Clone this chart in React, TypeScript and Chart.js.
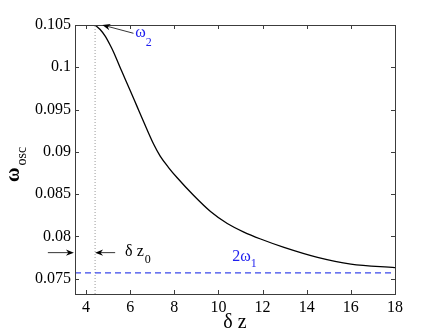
import React, { useEffect, useRef } from 'react';
import { Chart, registerables } from 'chart.js';
Chart.register(...registerables);

const SERIF = 'Liberation Serif';
Chart.defaults.font.family = SERIF;

// δz values and oscillation frequency ω_osc
const dz = [4.41, 4.64, 4.86, 5.09, 5.24, 5.62, 6.0, 6.31, 6.61, 7.06, 7.36, 7.74, 8.12, 8.88, 9.64, 10.4, 11.15, 11.91, 12.97, 14.49, 16.0, 18.0];
const wosc = [0.105, 0.10447, 0.10371, 0.10264, 0.10185, 0.09952, 0.09727, 0.09538, 0.09356, 0.09093, 0.08951, 0.08815, 0.08697, 0.08484, 0.08295, 0.08153, 0.08052, 0.0797, 0.07871, 0.07753, 0.07674, 0.07632];
const twoOmega1 = 0.0757;
const dz0 = 4.41;

const xRange = [3.5, 18];
const yRange = [0.0732, 0.105];
const xTicks = [4, 6, 8, 10, 12, 14, 16, 18];
const xTickLabels = ['4', '6', '8', '10', '12', '14', '16', '18'];
const yTicks = [0.075, 0.08, 0.085, 0.09, 0.095, 0.1, 0.105];
const yTickLabels = ['0.075', '0.08', '0.085', '0.09', '0.095', '0.1', '0.105'];

// annotation anchors in data coordinates
const omega2Arrow = { from: [6.15, 0.10402], to: [4.74, 0.105] };
const omega2Text = [6.23, 0.10358];
const dz0Arrow = { from: [5.32, 0.07809], to: [4.41, 0.07809] };
const dz0LeftArrow = { from: [2.27, 0.07809], to: [3.45, 0.07809] };
const dz0Text = [5.77, 0.0777];
const twoOmega1Text = [10.62, 0.0771];

const BLUE = '#1f1fef';
const AXIS = '#3c3c3c';

function drawArrow(ctx: CanvasRenderingContext2D, x1: number, y1: number, x2: number, y2: number) {
  const ang = Math.atan2(y2 - y1, x2 - x1);
  ctx.save();
  ctx.strokeStyle = '#000';
  ctx.fillStyle = '#000';
  ctx.lineWidth = 0.8;
  ctx.beginPath();
  ctx.moveTo(x1, y1);
  ctx.lineTo(x2 - Math.cos(ang) * 4, y2 - Math.sin(ang) * 4);
  ctx.stroke();
  const L = 8, W = 3.2;
  ctx.beginPath();
  ctx.moveTo(x2, y2);
  ctx.lineTo(x2 - L * Math.cos(ang) + W * Math.sin(ang), y2 - L * Math.sin(ang) - W * Math.cos(ang));
  ctx.lineTo(x2 - 5.5 * Math.cos(ang), y2 - 5.5 * Math.sin(ang));
  ctx.lineTo(x2 - L * Math.cos(ang) - W * Math.sin(ang), y2 - L * Math.sin(ang) + W * Math.cos(ang));
  ctx.closePath();
  ctx.fill();
  ctx.restore();
}

const decorPlugin = {
  id: 'decor',
  afterDraw(chart: any) {
    const ctx: CanvasRenderingContext2D = chart.ctx;
    const xs = chart.scales.x;
    const ys = chart.scales.y;
    const a = chart.chartArea;
    const px = (v: number) => xs.getPixelForValue(v);
    const py = (v: number) => ys.getPixelForValue(v);

    ctx.save();
    // box
    ctx.strokeStyle = AXIS;
    ctx.lineWidth = 1;
    ctx.strokeRect(Math.round(a.left) + 0.5, Math.round(a.top) + 0.5, Math.round(a.right - a.left), Math.round(a.bottom - a.top));
    // inward ticks
    const tl = 4;
    ctx.beginPath();
    xTicks.forEach((v) => {
      const x = Math.round(px(v)) + 0.5;
      ctx.moveTo(x, a.bottom); ctx.lineTo(x, a.bottom - tl);
      ctx.moveTo(x, a.top); ctx.lineTo(x, a.top + tl);
    });
    yTicks.forEach((v) => {
      const y = Math.round(py(v)) + 0.5;
      ctx.moveTo(a.left, y); ctx.lineTo(a.left + tl, y);
      ctx.moveTo(a.right, y); ctx.lineTo(a.right - tl, y);
    });
    ctx.stroke();

    // arrows
    drawArrow(ctx, px(omega2Arrow.from[0]), py(omega2Arrow.from[1]), px(omega2Arrow.to[0]), py(omega2Arrow.to[1]));
    drawArrow(ctx, px(dz0Arrow.from[0]), py(dz0Arrow.from[1]), px(dz0Arrow.to[0]), py(dz0Arrow.to[1]));
    drawArrow(ctx, px(dz0LeftArrow.from[0]), py(dz0LeftArrow.from[1]), px(dz0LeftArrow.to[0]), py(dz0LeftArrow.to[1]));

    ctx.textBaseline = 'alphabetic';
    ctx.textAlign = 'left';
    // ω2
    ctx.fillStyle = BLUE;
    ctx.font = `16px ${SERIF}`;
    let x = px(omega2Text[0]);
    let y = py(omega2Text[1]);
    ctx.fillText('ω', x, y);
    let w = ctx.measureText('ω').width;
    ctx.font = `12px ${SERIF}`;
    ctx.fillText('2', x + w, y + 9);
    // 2ω1
    ctx.font = `16px ${SERIF}`;
    x = px(twoOmega1Text[0]);
    y = py(twoOmega1Text[1]);
    ctx.fillText('2ω', x, y);
    w = ctx.measureText('2ω').width;
    ctx.font = `12px ${SERIF}`;
    ctx.fillText('1', x + w, y + 6);
    // δ z0
    ctx.fillStyle = '#000';
    ctx.font = `16px ${SERIF}`;
    x = px(dz0Text[0]);
    y = py(dz0Text[1]);
    ctx.fillText('δ z', x, y);
    w = ctx.measureText('δ z').width;
    ctx.font = `12px ${SERIF}`;
    ctx.fillText('0', x + w + 1, y + 7);

    // x title
    ctx.fillStyle = '#000';
    ctx.font = `20px ${SERIF}`;
    ctx.textAlign = 'center';
    ctx.fillText('δ z', (a.left + a.right) / 2, 328);

    // y title
    ctx.save();
    ctx.translate(19, 182);
    ctx.rotate(-Math.PI / 2);
    ctx.textAlign = 'left';
    ctx.font = `bold 20px ${SERIF}`;
    ctx.fillText('ω', 0, 0);
    const ww = ctx.measureText('ω').width;
    ctx.font = `14px ${SERIF}`;
    ctx.fillText('osc', ww + 2, 7);
    ctx.restore();

    ctx.restore();
  },
};

export default function App() {
  const ref = useRef<HTMLCanvasElement | null>(null);
  useEffect(() => {
    if (!ref.current) return;
    const chart = new Chart(ref.current, {
      type: 'line',
      data: {
        datasets: [
          {
            data: dz.map((v, i) => ({ x: v, y: wosc[i] })),
            borderColor: '#000',
            borderWidth: 1.3,
            pointRadius: 0,
            cubicInterpolationMode: 'monotone',
            fill: false,
          },
          {
            data: [{ x: xRange[0], y: twoOmega1 }, { x: xRange[1], y: twoOmega1 }],
            borderColor: '#3a48ea',
            borderWidth: 1.3,
            borderDash: [6, 4],
            pointRadius: 0,
            fill: false,
          },
          {
            data: [{ x: dz0, y: yRange[0] }, { x: dz0, y: yRange[1] }],
            borderColor: '#9a9a9a',
            borderWidth: 1,
            borderDash: [1, 2],
            pointRadius: 0,
            fill: false,
          },
        ],
      },
      options: {
        animation: false,
        responsive: false,
        devicePixelRatio: 1,
        parsing: false,
        font: { family: SERIF },
        layout: { padding: { left: 0, top: 25, right: 41, bottom: 0 } },
        plugins: { legend: { display: false }, tooltip: { enabled: false }, title: { display: false } },
        scales: {
          x: {
            type: 'linear',
            min: xRange[0],
            max: xRange[1],
            afterBuildTicks: (s: any) => { s.ticks = xTicks.map((v) => ({ value: v })); },
            afterFit: (s: any) => { s.height = 41; },
            grid: { display: true, drawOnChartArea: false, drawTicks: false },
            border: { display: false },
            ticks: {
              color: '#000',
              padding: 4,
              maxRotation: 0,
              autoSkip: false,
              font: { family: SERIF, size: 16 },
              callback: (v: any) => xTickLabels[xTicks.indexOf(+v)] ?? '',
            },
          },
          y: {
            type: 'linear',
            min: yRange[0],
            max: yRange[1],
            afterBuildTicks: (s: any) => { s.ticks = yTicks.map((v) => ({ value: v })); },
            afterFit: (s: any) => { s.width = 75; },
            grid: { display: true, drawOnChartArea: false, drawTicks: false },
            border: { display: false },
            ticks: {
              color: '#000',
              padding: 4,
              autoSkip: false,
              font: { family: SERIF, size: 16 },
              callback: (v: any) => {
                const i = yTicks.findIndex((t) => Math.abs(t - +v) < 1e-9);
                return i >= 0 ? yTickLabels[i] : '';
              },
            },
          },
        },
      },
      plugins: [decorPlugin],
    } as any);
    return () => chart.destroy();
  }, []);
  return (
    <div style={{ position: 'absolute', left: 0, top: 0, width: 436, height: 335, background: '#fff' }}>
      <canvas ref={ref} width={436} height={335} style={{ display: 'block' }} />
    </div>
  );
}
